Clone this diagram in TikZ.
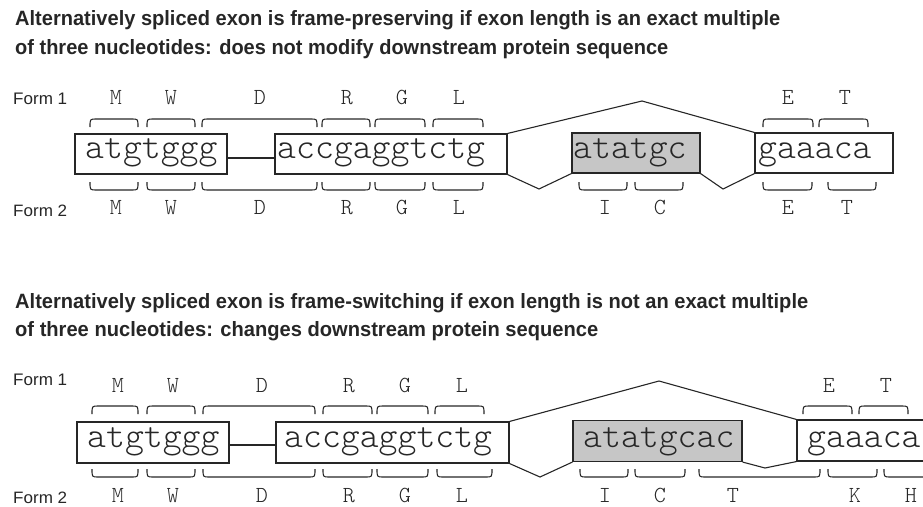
\documentclass[tikz,border=0pt]{standalone}
\usepackage{fontspec}
\usepackage{graphicx}
\newfontfamily\titlef{Liberation Sans}
\newfontfamily\dnaf{Latin Modern Mono Light}
\definecolor{ink}{gray}{0.15}
\tikzset{
  ln/.style={draw=ink, line width=1.1pt},
  box/.style={draw=ink, line width=1.1pt, inner sep=0pt, minimum height=40pt},
  exon/.style={box, fill=gray!45},
  seq/.style={font=\dnaf\fontsize{36}{36}\selectfont, text=ink, inner sep=0pt, anchor=base west},
  aa/.style={font=\dnaf\fontsize{23}{23}\selectfont, text=ink, inner sep=0pt, anchor=base},
  ttl/.style={font=\titlef\bfseries, text=ink, inner sep=0pt, anchor=base west},
  frm/.style={font=\titlef, text=ink, inner sep=0pt, anchor=base west},
}
\newcommand\tbr[3]{\draw[ln] (#1,#3+8) .. controls (#1,#3) .. (#1+6,#3) -- (#2-6,#3) .. controls (#2,#3) .. (#2,#3+8);}
\newcommand\bbr[3]{\draw[ln] (#1,#3-8) .. controls (#1,#3) .. (#1+6,#3) -- (#2-6,#3) .. controls (#2,#3) .. (#2,#3-8);}
\newcommand\aal[4]{\node[aa] (#1) at (#2,#3) {#4};}
\begin{document}
\begin{tikzpicture}[x=1pt,y=-1pt]
\useasboundingbox (0,0) rectangle (923,506);
\clip (0,0) rectangle (923,506);
% ---------------- Section 1 ----------------
\node[ttl] (t1a) at (15,25) {\resizebox{765pt}{15pt}{Alternatively spliced exon is frame-preserving if exon length is an exact multiple}};
\node[ttl] (t1b) at (15,54) {\resizebox{653pt}{15pt}{of three nucleotides: does not modify downstream protein sequence}};
\node[frm] (f1a) at (13,104) {\resizebox{54pt}{11.5pt}{Form 1}};
\node[frm] (f1b) at (13,216) {\resizebox{54pt}{11.5pt}{Form 2}};
% boxes
\node[box, minimum width=152pt] (a1) at (151,154) {};
\node[box, minimum width=232pt] (b1) at (391,154) {};
\node[exon, minimum width=128pt] (c1) at (636,153) {};
\node[box, minimum width=138pt] (d1) at (824,153) {};
\node[seq] (sa1) at (85,158) {atgtggg};
\node[seq] (sb1) at (277,158) {accgaggtctg};
\node[seq] (sc1) at (573,158) {atatgc};
\node[seq] (sd1) at (758,158) {gaaaca};
\draw[ln] ([yshift=-4pt]a1.east) -- ([yshift=-4pt]b1.west);
\coordinate (pk1) at (642,101);
\coordinate (dp1) at (539,189);
\coordinate (dq1) at (723,189);
\draw[ln] (b1.north east) -- (pk1) -- (d1.north west);
\draw[ln] (b1.south east) -- (dp1) -- (c1.south west);
\draw[ln] (c1.south east) -- (dq1) -- (d1.south west);
% braces
\tbr{90}{138}{119}\tbr{147}{195}{119}\tbr{202}{317}{119}\tbr{322}{370}{119}\tbr{375}{425}{119}\tbr{433}{483}{119}
\tbr{763}{813}{119}\tbr{819}{868}{119}
\bbr{90}{138}{190}\bbr{147}{195}{190}\bbr{202}{317}{190}\bbr{322}{370}{190}\bbr{375}{425}{190}\bbr{433}{483}{190}
\bbr{579}{627}{190}\bbr{635}{683}{190}\bbr{763}{812}{190}\bbr{828}{876}{190}
% amino acids
\aal{u1}{116}{104}{M}\aal{u2}{171}{104}{W}\aal{u3}{260}{104}{D}\aal{u4}{347}{104}{R}\aal{u5}{402}{104}{G}\aal{u6}{459}{104}{L}
\aal{u7}{788}{104}{E}\aal{u8}{845}{104}{T}
\aal{v1}{116}{214}{M}\aal{v2}{171}{214}{W}\aal{v3}{260}{214}{D}\aal{v4}{347}{214}{R}\aal{v5}{402}{214}{G}\aal{v6}{459}{214}{L}
\aal{v7}{605}{214}{I}\aal{v8}{660}{214}{C}\aal{v9}{788}{214}{E}\aal{v10}{847}{214}{T}
% ---------------- Section 2 ----------------
\node[ttl] (t2a) at (15,308) {\resizebox{793pt}{15pt}{Alternatively spliced exon is frame-switching if exon length is not an exact multiple}};
\node[ttl] (t2b) at (15,336) {\resizebox{583pt}{15pt}{of three nucleotides: changes downstream protein sequence}};
\node[frm] (f2a) at (13,385) {\resizebox{54pt}{11.5pt}{Form 1}};
\node[frm] (f2b) at (13,503) {\resizebox{54pt}{11.5pt}{Form 2}};
\node[box, minimum width=152pt, minimum height=41pt] (a2) at (153,442.5) {};
\node[box, minimum width=233pt, minimum height=41pt] (b2) at (392.5,442.5) {};
\node[exon, minimum width=169pt, minimum height=41pt] (c2) at (657.5,441) {};
\node[box, minimum width=150pt, minimum height=41pt] (d2) at (872,440.5) {};
\node[seq] (sa2) at (87,447) {atgtggg};
\node[seq] (sb2) at (284,447) {accgaggtctg};
\node[seq] (sc2) at (583,447) {atatgcac};
\node[seq] (sd2) at (807,447) {gaaaca};
\draw[ln] ([yshift=-2.5pt]a2.east) -- ([yshift=-2.5pt]b2.west);
\coordinate (pk2) at (659,381);
\coordinate (dp2) at (540,477);
\coordinate (dq2) at (765,468);
\draw[ln] (b2.north east) -- (pk2) -- (d2.north west);
\draw[ln] (b2.south east) -- (dp2) -- (c2.south west);
\draw[ln] (c2.south east) -- (dq2) -- (d2.south west);
\tbr{92}{138}{406}\tbr{147}{195}{406}\tbr{203}{315}{406}\tbr{323}{372}{406}\tbr{377}{428}{406}\tbr{435}{484}{406}
\tbr{803}{852}{406}\tbr{859}{908}{406}
\bbr{92}{138}{477}\bbr{147}{195}{477}\bbr{203}{315}{477}\bbr{323}{372}{477}\bbr{377}{428}{477}\bbr{437}{492}{477}
\bbr{580}{628}{477}\bbr{635}{685}{477}\bbr{699}{820}{477}\bbr{828}{877}{477}\bbr{884}{945}{477}
\aal{p1}{118}{392}{M}\aal{p2}{173}{392}{W}\aal{p3}{262}{392}{D}\aal{p4}{349}{392}{R}\aal{p5}{405}{392}{G}\aal{p6}{462}{392}{L}
\aal{p7}{829}{392}{E}\aal{p8}{886}{392}{T}
\aal{q1}{118}{502}{M}\aal{q2}{173}{502}{W}\aal{q3}{262}{502}{D}\aal{q4}{349}{502}{R}\aal{q5}{405}{502}{G}\aal{q6}{462}{502}{L}
\aal{q7}{605}{502}{I}\aal{q8}{660}{502}{C}\aal{q9}{733}{502}{T}\aal{q10}{855}{502}{K}\aal{q11}{911}{502}{H}
\end{tikzpicture}
\end{document}
